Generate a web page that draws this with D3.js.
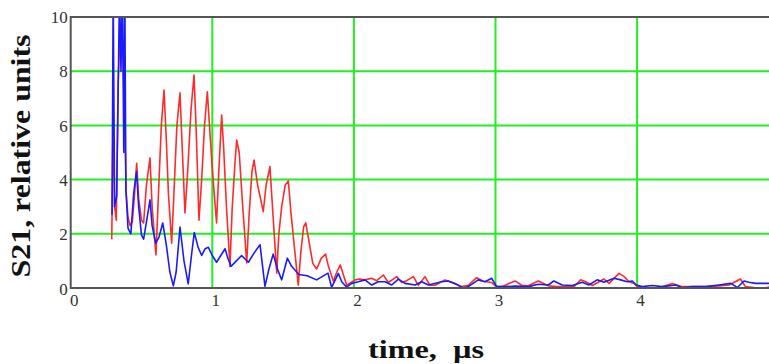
<!DOCTYPE html>
<html>
<head>
<meta charset="utf-8">
<script src="https://cdn.jsdelivr.net/npm/d3@7"></script>
<style>
    body { margin: 0; background: #fff; }
    svg { display: block; }
    .tick text { font-family: "Liberation Serif", "Times New Roman", serif; font-size: 17px; }
</style>
</head>
<body>
<div id="chart"></div>
<script>
// tick labels
const xTicks = [0, 1, 2, 3, 4];
const yTicks = [0, 2, 4, 6, 8, 10];

// red trace (time, us / S21)
const redTime = [0.290, 0.300, 0.310, 0.322, 0.335, 0.350, 0.360, 0.368, 0.380, 0.392,
    0.405, 0.420, 0.435, 0.450, 0.466, 0.480, 0.500, 0.515, 0.535, 0.560,
    0.575, 0.602, 0.620, 0.640, 0.659, 0.675, 0.690, 0.713, 0.730, 0.750,
    0.772, 0.785, 0.807, 0.825, 0.850, 0.871, 0.885, 0.906, 0.925, 0.945,
    0.965, 0.985, 1.000, 1.030, 1.045, 1.066, 1.080, 1.100, 1.125, 1.140,
    1.160, 1.172, 1.190, 1.215, 1.243, 1.260, 1.280, 1.295, 1.320, 1.360,
    1.380, 1.407, 1.425, 1.455, 1.470, 1.490, 1.515, 1.537, 1.555, 1.580,
    1.607, 1.625, 1.645, 1.660, 1.680, 1.710, 1.737, 1.770, 1.800, 1.820,
    1.855, 1.880, 1.904, 1.949, 2.008, 2.043, 2.078, 2.126, 2.161, 2.208,
    2.243, 2.302, 2.338, 2.373, 2.420, 2.455, 2.502, 2.537, 2.573, 2.643,
    2.690, 2.761, 2.808, 2.867, 2.914, 2.973, 3.008, 3.044, 3.138, 3.185,
    3.232, 3.302, 3.373, 3.436, 3.496, 3.554, 3.602, 3.637, 3.684, 3.766,
    3.802, 3.872, 3.908, 3.943, 3.978, 4.002, 4.061, 4.155, 4.249, 4.319,
    4.390, 4.484, 4.578, 4.649, 4.730, 4.765, 4.838, 4.908, 4.950];
const redValue = [1.8, 6.6, 3.0, 2.5, 7.6, 9.6, 8.6, 9.0, 6.3, 3.5,
    2.6, 2.3, 2.45, 3.4, 4.6, 3.3, 2.5, 2.4, 3.8, 4.8,
    3.0, 1.22, 3.5, 6.0, 7.3, 5.5, 3.5, 1.65, 3.6, 6.0,
    7.2, 5.5, 2.77, 4.2, 6.6, 7.86, 6.0, 2.5, 4.0, 6.0,
    7.24, 5.6, 4.4, 2.4, 4.2, 6.38, 5.2, 3.0, 0.79, 2.9,
    4.6, 5.46, 5.0, 3.0, 0.92, 2.7, 4.3, 4.72, 3.8, 2.82,
    3.8, 4.48, 3.0, 0.55, 2.0, 3.0, 3.8, 3.95, 2.8, 1.5,
    0.1, 1.3, 2.26, 2.4, 1.8, 0.9, 0.7, 1.1, 1.25, 0.8,
    0.25, 0.6, 0.85, 0.1, 0.3, 0.33, 0.3, 0.36, 0.27, 0.48,
    0.2, 0.42, 0.2, 0.27, 0.42, 0.1, 0.42, 0.1, 0.1, 0.3,
    0.2, 0.05, 0.1, 0.38, 0.25, 0.2, 0.05, 0.05, 0.26, 0.1,
    0.08, 0.26, 0.08, 0.05, 0.05, 0.05, 0.3, 0.23, 0.09, 0.33,
    0.17, 0.54, 0.42, 0.23, 0.17, 0.05, 0.01, 0.01, 0.17, 0.05,
    0.05, 0.05, 0.08, 0.11, 0.33, 0.05, 0.01, 0.01, 0.05];

// blue trace
const blueTime = [0.292, 0.300, 0.310, 0.325, 0.345, 0.355, 0.365, 0.375, 0.382, 0.390,
    0.405, 0.425, 0.445, 0.465, 0.480, 0.500, 0.515, 0.540, 0.560, 0.575,
    0.600, 0.625, 0.650, 0.675, 0.700, 0.725, 0.745, 0.772, 0.800, 0.830,
    0.855, 0.873, 0.900, 0.925, 0.950, 0.972, 1.000, 1.030, 1.060, 1.090,
    1.110, 1.132, 1.170, 1.207, 1.235, 1.255, 1.290, 1.337, 1.355, 1.372,
    1.400, 1.430, 1.460, 1.490, 1.510, 1.530, 1.560, 1.612, 1.670, 1.737,
    1.817, 1.843, 1.890, 1.914, 1.949, 1.984, 2.031, 2.078, 2.126, 2.172,
    2.220, 2.267, 2.314, 2.361, 2.432, 2.479, 2.526, 2.620, 2.667, 2.714,
    2.773, 2.808, 2.878, 2.926, 2.973, 3.008, 3.067, 3.138, 3.232, 3.302,
    3.373, 3.412, 3.471, 3.542, 3.612, 3.659, 3.718, 3.766, 3.837, 3.884,
    3.930, 3.966, 3.994, 4.037, 4.107, 4.178, 4.273, 4.319, 4.390, 4.484,
    4.578, 4.661, 4.708, 4.755, 4.790, 4.838, 4.908, 4.950];
const blueValue = [2.7, 11, 3.0, 3.4, 11, 8.0, 11, 5.0, 11, 3.6,
    2.2, 2.0, 3.5, 4.3, 3.0, 1.95, 1.8, 2.6, 3.25, 2.3,
    1.65, 1.9, 2.4, 1.6, 0.6, 0.08, 0.6, 2.25, 1.0, 0.15,
    1.3, 2.05, 1.5, 1.2, 1.45, 1.5, 1.2, 0.95, 1.2, 1.45,
    1.1, 0.8, 1.0, 1.2, 1.05, 0.95, 1.25, 1.6, 0.8, 0.06,
    0.7, 1.25, 0.7, 0.3, 0.7, 1.1, 0.8, 0.5, 0.45, 0.3,
    0.55, 0.02, 0.54, 0.23, 0.03, 0.17, 0.23, 0.3, 0.11, 0.23,
    0.23, 0.11, 0.33, 0.17, 0.11, 0.23, 0.11, 0.23, 0.26, 0.17,
    0.0, 0.05, 0.3, 0.23, 0.36, 0.05, 0.05, 0.07, 0.05, 0.14,
    0.11, 0.26, 0.11, 0.09, 0.21, 0.11, 0.3, 0.21, 0.36, 0.3,
    0.23, 0.26, 0.11, 0.05, 0.09, 0.05, 0.11, 0.01, 0.05, 0.05,
    0.11, 0.17, 0.02, 0.26, 0.21, 0.17, 0.17, 0.17];

const serif = '"Liberation Serif", "Times New Roman", serif';

const createGraph = function createGraph() {
    const width = 769;
    const height = 364;
    const plot = {left: 70.7, top: 17, bottom: 288, right: 778.7};

    const x = d3.scaleLinear().domain([0, 5]).range([plot.left, plot.right]);
    const y = d3.scaleLinear().domain([0, 10]).range([plot.bottom, plot.top]);

    const svg = d3.select('#chart').append('svg')
        .attr('width', width)
        .attr('height', height)
        .attr('font-family', serif);

    svg.append('rect').attr('width', width).attr('height', height).attr('fill', '#fff');

    svg.append('clipPath').attr('id', 'clip')
      .append('rect')
        .attr('x', plot.left)
        .attr('y', plot.top)
        .attr('width', plot.right - plot.left)
        .attr('height', plot.bottom - plot.top);

    // green grid
    const grid = svg.append('g')
        .attr('stroke', '#22ee22')
        .attr('stroke-width', 2);

    grid.selectAll('.gx')
        .data(xTicks.filter((d) => { return d > 0 }))
        .enter()
      .append('line')
        .attr('x1', (d) => { return x(d) })
        .attr('x2', (d) => { return x(d) })
        .attr('y1', plot.top)
        .attr('y2', plot.bottom);

    grid.selectAll('.gy')
        .data(yTicks.filter((d) => { return d > 0 && d < 10 }))
        .enter()
      .append('line')
        .attr('x1', plot.left)
        .attr('x2', plot.right)
        .attr('y1', (d) => { return y(d) })
        .attr('y2', (d) => { return y(d) });

    const line = d3.line()
        .x((d) => { return x(d[0]) })
        .y((d) => { return y(d[1]) });

    const series = [
        {color: '#ff2a2a', values: d3.zip(redTime, redValue)},
        {color: '#1a1aff', values: d3.zip(blueTime, blueValue)}
    ];

    svg.append('g')
        .attr('clip-path', 'url(#clip)')
        .selectAll('path')
        .data(series)
        .enter()
      .append('path')
        .attr('d', (d) => { return line(d.values) })
        .attr('fill', 'none')
        .attr('stroke', (d) => { return d.color })
        .attr('stroke-width', 1.6)
        .attr('stroke-linejoin', 'round');

    // frame (right side falls outside the picture)
    svg.append('rect')
        .attr('x', plot.left)
        .attr('y', plot.top)
        .attr('width', plot.right - plot.left)
        .attr('height', plot.bottom - plot.top)
        .attr('fill', 'none')
        .attr('stroke', '#555')
        .attr('stroke-width', 2);

    // axes, drawn with d3 and then stripped of their own lines
    const axisY = svg.append('g')
        .attr('transform', 'translate(' + (plot.left - 3) + ',0)')
        .call(d3.axisLeft(y).tickValues(yTicks).tickFormat(d3.format('d')).tickSize(0).tickPadding(0));
    axisY.select('.domain').remove();
    axisY.selectAll('text')
        .attr('dy', '0.34em')
        .attr('fill', '#333');
    axisY.select('.tick:first-of-type text').attr('dy', '0.4em');

    const axisX = svg.append('g')
        .attr('transform', 'translate(3,' + (plot.bottom + 2) + ')')
        .call(d3.axisBottom(x).tickValues(xTicks).tickFormat(d3.format('d')).tickSize(0).tickPadding(4));
    axisX.select('.domain').remove();
    axisX.selectAll('text')
        .attr('fill', '#333');

    svg.append('text')
        .attr('transform', 'translate(30,156) rotate(-90)')
        .attr('text-anchor', 'middle')
        .attr('textLength', 243)
        .attr('lengthAdjust', 'spacingAndGlyphs')
        .attr('font-size', 28)
        .attr('font-weight', 'bold')
        .attr('fill', '#111')
        .text('S21, relative units');

    svg.append('text')
        .attr('x', 426)
        .attr('y', 358)
        .attr('text-anchor', 'middle')
        .attr('textLength', 116)
        .attr('lengthAdjust', 'spacingAndGlyphs')
        .attr('font-size', 26)
        .attr('font-weight', 'bold')
        .attr('fill', '#111')
        .text('time,\u00a0 µs');
};

createGraph();
</script>
</body>
</html>
